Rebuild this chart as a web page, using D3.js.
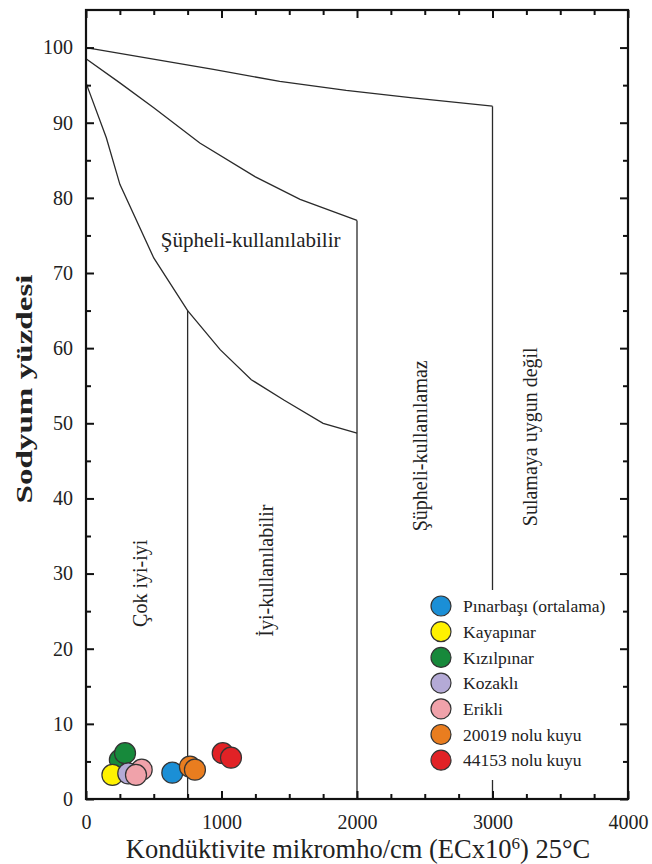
<!DOCTYPE html>
<html>
<head>
<meta charset="utf-8">
<script src="https://cdnjs.cloudflare.com/ajax/libs/d3/7.8.5/d3.min.js"></script>
<style>
  html, body { margin: 0; padding: 0; background: #fff; }
  svg { display: block; }
  text { font-family: "Liberation Serif", "Times New Roman", serif; fill: #222; }
</style>
</head>
<body>
<div id="chart"></div>
<script>
// Wilcox diagram: sodium percent vs. electrical conductivity

// Boundary curves [EC, Na%]
const curveTop = [[0, 100], [940, 97.1], [1430, 95.5], [1920, 94.3], [2410, 93.3], [3000, 92.2]];
const curveMid = [[0, 98.5], [250, 95.3], [500, 92.0], [840, 87.3], [1250, 82.8], [1580, 79.8], [1970, 77.2], [2000, 77.0]];
const curveLow = [[0, 95.3], [150, 88.0], [250, 81.8], [500, 72.0], [750, 65.0], [990, 59.8], [1220, 55.8], [1460, 53.1], [1750, 50.0], [2000, 48.7]];

// Vertical class limits: [EC, top Na%]
const limits = [[750, 65.0], [2000, 77.0], [3000, 92.2]];

// Water sources and colours
const sources = ["Pınarbaşı (ortalama)", "Kayapınar", "Kızılpınar", "Kozaklı", "Erikli", "20019 nolu kuyu", "44153 nolu kuyu"];
const colors  = ["#1b8fd6", "#fff200", "#17893b", "#b4aad6", "#f0a2aa", "#e97d1f", "#e12226"];

// Samples: [source index, EC, Na%]  (drawing order)
const samples = [
  [2, 250, 5.2], [2, 288, 6.1],
  [1, 195, 3.2],
  [3, 312, 3.4],
  [4, 411, 3.9], [4, 369, 3.2],
  [0, 637, 3.5],
  [5, 767, 4.3], [5, 804, 3.9],
  [6, 1009, 6.1], [6, 1070, 5.5]
];

// Region labels: [text, EC, Na%, rotated]
const regions = [
  ["Şüpheli-kullanılabilir", 1215, 74.5, false],
  ["Çok iyi-iyi", 400, 28.7, true],
  ["İyi-kullanılabilir", 1330, 30.4, true],
  ["Şüpheli-kullanılamaz", 2465, 47.0, true],
  ["Sulamaya uygun değil", 3280, 48.2, true]
];

const xMajor = [0, 1000, 2000, 3000, 4000];
const xMinor = d3.range(250, 4000, 250).filter(v => v % 1000 !== 0);
const yMajor = d3.range(0, 101, 10);
const yMinor = d3.range(5, 105, 10);

const W = 652, H = 864;
const L = 86, R = 628, T = 10, B = 799;

const x = d3.scaleLinear().domain([0, 4000]).range([L, R]);
const y = d3.scaleLinear().domain([0, 105]).range([B, T]);

const svg = d3.select("#chart").append("svg").attr("width", W).attr("height", H);

// Boundary lines
const line = d3.line().x(d => x(d[0])).y(d => y(d[1]));
const lines = svg.append("g").attr("fill", "none").attr("stroke", "#2a2a2a").attr("stroke-width", 1.3);
[curveTop, curveMid, curveLow].forEach(c => lines.append("path").attr("d", line(c)));
lines.selectAll("line.lim").data(limits).join("line")
  .attr("x1", d => x(d[0])).attr("x2", d => x(d[0]))
  .attr("y1", d => y(d[1])).attr("y2", y(0));

// Region labels
regions.forEach(([t, ex, na, rot]) => {
  const tx = x(ex), ty = y(na);
  const el = svg.append("text")
    .attr("font-size", rot ? 20 : 21)
    .attr("text-anchor", "middle")
    .attr("dy", "0.35em")
    .text(t);
  el.attr("transform", rot ? `translate(${tx},${ty}) rotate(-90)` : `translate(${tx},${ty})`);
});

// Axes: inward major/minor ticks on all four sides
function styleAxis(g) {
  g.select(".domain").remove();
  g.selectAll(".tick line").attr("stroke", "#111").attr("stroke-width", 2);
  g.selectAll("text").attr("font-size", 20).attr("fill", "#222")
    .attr("font-family", "'Liberation Serif', 'Times New Roman', serif");
}
svg.append("g").attr("transform", `translate(0,${B})`)
  .call(d3.axisBottom(x).tickValues(xMajor).tickFormat(d3.format("d")).tickSize(-8).tickPadding(16))
  .call(styleAxis);
svg.append("g").attr("transform", `translate(0,${B})`)
  .call(d3.axisBottom(x).tickValues(xMinor).tickFormat("").tickSize(-5))
  .call(styleAxis);
svg.append("g").attr("transform", `translate(0,${T})`)
  .call(d3.axisTop(x).tickValues(xMajor).tickFormat("").tickSize(-8))
  .call(styleAxis);
svg.append("g").attr("transform", `translate(0,${T})`)
  .call(d3.axisTop(x).tickValues(xMinor).tickFormat("").tickSize(-5))
  .call(styleAxis);
svg.append("g").attr("transform", `translate(${L},0)`)
  .call(d3.axisLeft(y).tickValues(yMajor).tickFormat(d3.format("d")).tickSize(-8).tickPadding(13))
  .call(styleAxis);
svg.append("g").attr("transform", `translate(${L},0)`)
  .call(d3.axisLeft(y).tickValues(yMinor).tickFormat("").tickSize(-5))
  .call(styleAxis);
svg.append("g").attr("transform", `translate(${R},0)`)
  .call(d3.axisRight(y).tickValues(yMajor).tickFormat("").tickSize(-8))
  .call(styleAxis);
svg.append("g").attr("transform", `translate(${R},0)`)
  .call(d3.axisRight(y).tickValues(yMinor).tickFormat("").tickSize(-5))
  .call(styleAxis);

// Frame
svg.append("rect")
  .attr("x", L).attr("y", T).attr("width", R - L).attr("height", B - T)
  .attr("fill", "none").attr("stroke", "#111").attr("stroke-width", 2.2);

// Legend (white background over the plot lines)
const lg = svg.append("g").attr("transform", "translate(441,606)");
lg.append("rect").attr("x", -15).attr("y", -16).attr("width", 190).attr("height", 190).attr("fill", "#fff");
const rows = lg.selectAll("g.row").data(sources).join("g")
  .attr("transform", (d, i) => `translate(0,${i * 25.7})`);
rows.append("circle").attr("r", 10)
  .attr("fill", (d, i) => colors[i]).attr("stroke", "#333").attr("stroke-width", 1.2);
rows.append("text").attr("x", 22).attr("dy", "0.35em").attr("font-size", 17.5).text(d => d);

// Sample points
svg.append("g").selectAll("circle").data(samples).join("circle")
  .attr("cx", d => x(d[1])).attr("cy", d => y(d[2])).attr("r", 10.5)
  .attr("fill", d => colors[d[0]]).attr("stroke", "#333").attr("stroke-width", 1.2);

// Axis titles
svg.append("text")
  .attr("x", (L + R) / 2 + 1).attr("y", 858)
  .attr("text-anchor", "middle").attr("font-size", 26.5)
  .html("Kondüktivite mikromho/cm (ECx10<tspan dy='-9' font-size='17'>6</tspan><tspan dy='9'>) 25°C</tspan>");

svg.append("text")
  .attr("transform", "translate(32,389) rotate(-90) scale(1.38,1)")
  .attr("text-anchor", "middle").attr("font-size", 24).attr("font-weight", "bold")
  .text("Sodyum yüzdesi");
</script>
</body>
</html>
